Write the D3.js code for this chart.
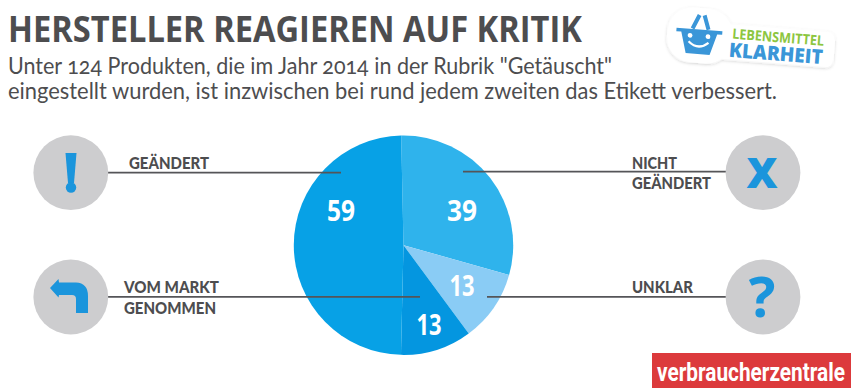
<!DOCTYPE html>
<html>
<head>
<meta charset="utf-8">
<script src="https://cdnjs.cloudflare.com/ajax/libs/d3/7.8.5/d3.min.js"></script>
<style>
html, body { margin: 0; padding: 0; background: #fff; }
svg { display: block; }
text { font-family: "Open Sans", "Noto Sans", sans-serif; }
</style>
</head>
<body>
<svg id="chart" width="851" height="388"></svg>
<script>
var categories = ["NICHT GEÄNDERT", "UNKLAR", "VOM MARKT GENOMMEN", "GEÄNDERT"];
var values = [39, 13, 13, 59];
// the slices in the picture are not quite proportional to the printed numbers,
// so the drawn share (percent of the circle) is read off separately
var drawnShare = [29.7, 10.5, 10.5, 49.3];
var sliceColors = ["#2fb3ec", "#8accf5", "#0496e0", "#07a1e6"];

var title = "HERSTELLER REAGIEREN AUF KRITIK";
var subtitle = [
    "Unter 124 Produkten, die im Jahr 2014 in der Rubrik \"Getäuscht\"",
    "eingestellt wurden, ist inzwischen bei rund jedem zweiten das Etikett verbessert."
];

var grey = "#4d4d4f",
    lineGrey = "#555558",
    iconBlue = "#1b95dc",
    cx = 403.5,
    cy = 245.2,
    radius = 109.7,
    startDeg = -1.2;

var svg = d3.select("#chart");

// header
svg.append("text")
    .attr("x", 8).attr("y", 42)
    .attr("textLength", 574).attr("lengthAdjust", "spacingAndGlyphs")
    .attr("font-size", 35.5).attr("font-weight", 700)
    .attr("fill", grey)
    .text(title);

svg.selectAll("text.sub")
    .data(subtitle)
    .enter().append("text")
    .attr("class", "sub")
    .attr("x", 8)
    .attr("y", function(d, i) { return 74 + i * 25; })
    .attr("textLength", function(d, i) { return i == 0 ? 604 : 769; })
    .attr("lengthAdjust", "spacingAndGlyphs")
    .attr("font-size", 22.5)
    .attr("fill", grey)
    .style("font-family", "Lato, 'Open Sans', sans-serif")
    .style("font-feature-settings", "'onum' 1")
    .text(function(d) { return d; });

// pie
var pie = d3.pie()
    .sort(null)
    .startAngle(startDeg * Math.PI / 180)
    .endAngle((startDeg + 360) * Math.PI / 180)
    .value(function(d) { return d.share; });

var arc = d3.arc()
    .innerRadius(0)
    .outerRadius(radius);

var slices = pie(values.map(function(v, i) {
    return { name: categories[i], value: v, share: drawnShare[i], color: sliceColors[i] };
}));

var pieG = svg.append("g")
    .attr("transform", "translate(" + cx + "," + cy + ")");

pieG.selectAll("path")
    .data(slices)
    .enter().append("path")
    .attr("d", arc)
    .attr("fill", function(d) { return d.data.color; });

// label positions relative to the pie centre, same order as the slices
var valueLabelPos = [[58.5, -24.5], [58.5, 51], [25.5, 90], [-62.5, -24.5]];
var valueLabelWidth = [30, 25, 25, 28];

pieG.selectAll("text")
    .data(slices)
    .enter().append("text")
    .attr("x", function(d, i) { return valueLabelPos[i][0] - valueLabelWidth[i] / 2; })
    .attr("y", function(d, i) { return valueLabelPos[i][1]; })
    .attr("textLength", function(d, i) { return valueLabelWidth[i]; })
    .attr("lengthAdjust", "spacingAndGlyphs")
    .attr("font-size", 28)
    .attr("font-weight", 700)
    .attr("fill", "#fff")
    .text(function(d) { return d.data.value; });

// leader lines
var leaders = [
    [108, 341, 172.6],
    [108, 420, 296.8],
    [463, 727, 171.6],
    [487, 727, 296.8]
];

svg.selectAll("line.leader")
    .data(leaders)
    .enter().append("line")
    .attr("class", "leader")
    .attr("x1", function(d) { return d[0]; })
    .attr("x2", function(d) { return d[1]; })
    .attr("y1", function(d) { return d[2]; })
    .attr("y2", function(d) { return d[2]; })
    .attr("stroke", lineGrey)
    .attr("stroke-width", 1.8);

// category labels: text, x, baseline, width
var labelRows = [
    ["GEÄNDERT", 129, 169, 80],
    ["VOM MARKT", 124, 293, 95],
    ["GENOMMEN", 124, 314, 92],
    ["NICHT", 632, 169, 45],
    ["GEÄNDERT", 632, 189, 79],
    ["UNKLAR", 632, 293, 61]
];

svg.selectAll("text.cat")
    .data(labelRows)
    .enter().append("text")
    .attr("class", "cat")
    .attr("x", function(d) { return d[1]; })
    .attr("y", function(d) { return d[2]; })
    .attr("textLength", function(d) { return d[3]; })
    .attr("lengthAdjust", "spacingAndGlyphs")
    .attr("font-size", 16.5)
    .attr("font-weight", 900)
    .attr("fill", grey)
    .style("font-family", "Lato, 'Open Sans', sans-serif")
    .text(function(d) { return d[0]; });

// icon circles
var icons = [
    { x: 70.8, y: 172.7 },
    { x: 70.8, y: 297 },
    { x: 763, y: 172.7 },
    { x: 763, y: 297 }
];

svg.selectAll("circle.icon")
    .data(icons)
    .enter().append("circle")
    .attr("class", "icon")
    .attr("cx", function(d) { return d.x; })
    .attr("cy", function(d) { return d.y; })
    .attr("r", 37.4)
    .attr("fill", "#cdcdcf");

// exclamation mark
svg.append("path")
    .attr("d", "M65.5 153 L76.5 153 L74 183 L68 183 Z")
    .attr("fill", iconBlue);
svg.append("circle")
    .attr("cx", 71).attr("cy", 187.5).attr("r", 5.2)
    .attr("fill", iconBlue);

// back arrow
svg.append("path")
    .attr("d", "M50 288 L58.5 279 L59 282.5 L76 282.5 Q88 283 88 296 L88 313 L76 313 L76 299 Q76 295 72 295 L59 295 L58.5 297.5 Z")
    .attr("fill", iconBlue);

// x and question mark
svg.append("text")
    .attr("x", 762).attr("y", 188)
    .attr("text-anchor", "middle")
    .attr("font-size", 43).attr("font-weight", 800)
    .attr("fill", iconBlue)
    .text("X");
svg.append("text")
    .attr("x", 762).attr("y", 316.5)
    .attr("text-anchor", "middle")
    .attr("font-size", 56).attr("font-weight", 700)
    .attr("fill", iconBlue)
    .text("?");

// verbraucherzentrale box
svg.append("rect")
    .attr("x", 652).attr("y", 353)
    .attr("width", 199).attr("height", 35)
    .attr("fill", "#dc3a3c");
var vz = svg.append("text")
    .attr("font-size", 25).attr("font-weight", 700)
    .attr("fill", "#fff")
    .style("font-family", "Roboto, sans-serif")
    .text("verbraucherzentrale");
// squeeze the wordmark to the condensed width of the original
vz.attr("transform", "translate(657,381) scale(" + (188 / vz.node().getComputedTextLength()) + ",1)");

// logo sticker
var defs = svg.append("defs");
defs.append("filter")
    .attr("id", "soft")
    .attr("x", "-10%").attr("y", "-20%").attr("width", "120%").attr("height", "140%")
    .append("feDropShadow")
    .attr("dx", 0).attr("dy", 1).attr("stdDeviation", 1.5)
    .attr("flood-color", "#000").attr("flood-opacity", 0.18);

var logo = svg.append("g")
    .attr("transform", "rotate(4.5 750 38)");

var sticker = logo.append("g").attr("filter", "url(#soft)");
sticker.append("rect")
    .attr("x", 700).attr("y", 25.5)
    .attr("width", 135).attr("height", 36).attr("rx", 8)
    .attr("fill", "#fff");
sticker.append("rect")
    .attr("x", 667).attr("y", 12)
    .attr("width", 65).attr("height", 55).attr("rx", 24)
    .attr("fill", "#fff");

var basketBlue = "#3a96d8";
logo.append("path")
    .attr("d", "M692 33 L698 19 M708 33 L703 19")
    .attr("stroke", basketBlue).attr("stroke-width", 4).attr("fill", "none");
logo.append("path")
    .attr("d", "M676 33.5 L722 33.5 L722 37 L717 37 L711 58 L687 58 L681 37 L676 37 Z")
    .attr("fill", basketBlue);
logo.append("circle").attr("cx", 690).attr("cy", 40).attr("r", 2.4).attr("fill", "#fff");
logo.append("circle").attr("cx", 708).attr("cy", 40).attr("r", 2.4).attr("fill", "#fff");
logo.append("path")
    .attr("d", "M689 46 Q699 55 709 46")
    .attr("stroke", "#fff").attr("stroke-width", 2.2).attr("fill", "none");

logo.append("text")
    .attr("x", 732).attr("y", 40)
    .attr("textLength", 92).attr("lengthAdjust", "spacingAndGlyphs")
    .attr("font-size", 14).attr("font-weight", 700)
    .attr("fill", "#8cc63f")
    .text("LEBENSMITTEL");
logo.append("text")
    .attr("x", 730).attr("y", 58.5)
    .attr("textLength", 94).attr("lengthAdjust", "spacingAndGlyphs")
    .attr("font-size", 20).attr("font-weight", 800)
    .attr("fill", basketBlue)
    .text("KLARHEIT");
</script>
</body>
</html>
